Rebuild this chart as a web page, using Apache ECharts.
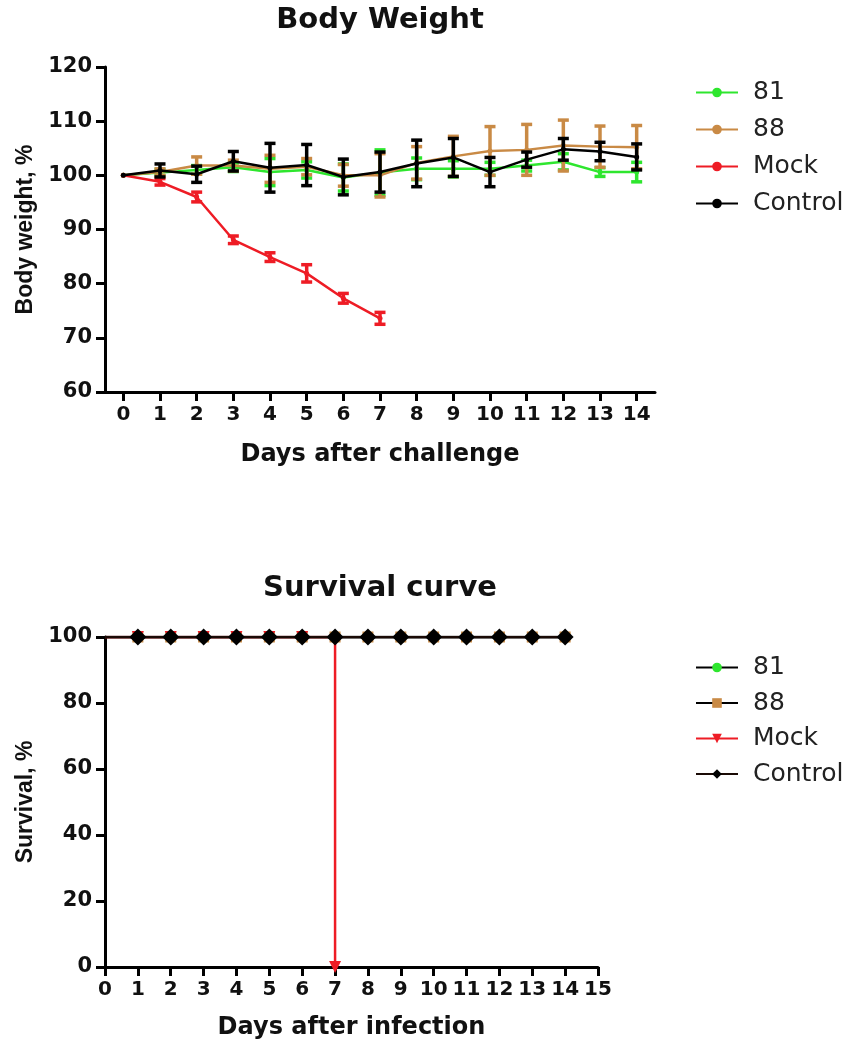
<!DOCTYPE html>
<html>
<head>
<meta charset="utf-8">
<title>Body Weight / Survival curve</title>
<script src="https://cdn.jsdelivr.net/npm/echarts@6/dist/echarts.min.js"></script>
<style>
  html, body { margin: 0; padding: 0; background: #fff; }
  .chart { width: 857px; height: 525px; }
</style>
</head>
<body>
<div id="weightChart" class="chart"></div>
<div id="survivalChart" class="chart"></div>
<script>
// ---- body weight (% of day 0), mean and error per day ----
const days = ['0', '1', '2', '3', '4', '5', '6', '7', '8', '9', '10', '11', '12', '13', '14']
const bw81 = [100, 100.5, 101.0, 101.5, 100.6, 101.0, 99.6, 100.5, 101.2, 101.2, 101.2, 101.8, 102.5, 100.6, 100.6]
const bw81Err = [0, 0.6, 0.8, 0.8, 2.5, 1.5, 2.5, 4.2, 2.0, 1.5, 1.2, 1.0, 1.5, 0.8, 1.8]
const bw88 = [100, 100.6, 101.8, 101.8, 101.2, 101.6, 100.0, 100.0, 102.3, 103.5, 104.5, 104.7, 105.5, 105.3, 105.2]
const bw88Err = [0, 0.6, 1.6, 1.0, 2.5, 1.5, 2.0, 4.0, 3.0, 3.7, 4.5, 4.7, 4.7, 3.8, 4.0]
const bwMock = [100, 98.8, 96.0, 88.1, 84.9, 81.9, 77.3, 73.6]
const bwMockErr = [0, 0.6, 0.9, 0.7, 0.8, 1.6, 0.9, 1.1]
const bwCtrl = [100, 100.9, 100.2, 102.6, 101.4, 101.9, 99.7, 100.6, 102.2, 103.3, 100.6, 102.9, 104.8, 104.4, 103.4]
const bwCtrlErr = [0, 1.2, 1.5, 1.8, 4.5, 3.8, 3.3, 3.7, 4.3, 3.5, 2.7, 1.4, 2.0, 1.7, 2.4]

// ---- survival (%) ----
const survDays = [0, 1, 2, 3, 4, 5, 6, 7, 8, 9, 10, 11, 12, 13, 14]
const surv81 = [100, 100, 100, 100, 100, 100, 100, 100, 100, 100, 100, 100, 100, 100, 100]
const surv88 = [100, 100, 100, 100, 100, 100, 100, 100, 100, 100, 100, 100, 100, 100, 100]
const survCtrl = [100, 100, 100, 100, 100, 100, 100, 100, 100, 100, 100, 100, 100, 100, 100]
const survMockDays = [0, 1, 2, 3, 4, 5, 6, 7]
const survMock = [100, 100, 100, 100, 100, 100, 100, 0]

const GREEN = '#2ee62e'
const TAN = '#c98a45'
const RED = '#ee1c25'
const BLACK = '#000'

const boldFont = { fontFamily: 'DejaVu Sans', fontWeight: 'bold', color: '#111' }

const axisLine = { show: true, lineStyle: { color: BLACK, width: 3 } }
const axisTick = { show: true, length: 9, lineStyle: { color: BLACK, width: 3 } }

const errorBars = (color) => (params, api) => {
  const x = api.value(0)
  const lo = api.coord([x, api.value(1)])
  const hi = api.coord([x, api.value(2)])
  const cap = 5.5
  const style = { stroke: color, lineWidth: 3.5 }
  return {
    type: 'group',
    children: [
      { type: 'line', shape: { x1: lo[0], y1: lo[1], x2: hi[0], y2: hi[1] }, style },
      { type: 'line', shape: { x1: lo[0] - cap, y1: lo[1], x2: lo[0] + cap, y2: lo[1] }, style },
      { type: 'line', shape: { x1: hi[0] - cap, y1: hi[1], x2: hi[0] + cap, y2: hi[1] }, style }
    ]
  }
}

const weightPair = (name, values, errs, color, z) => {
  const bars = []
  values.forEach((v, i) => {
    if (errs[i] > 0) bars.push([i, v - errs[i], v + errs[i]])
  })
  return [
    {
      name,
      type: 'line',
      data: values,
      symbol: 'circle',
      symbolSize: 5,
      lineStyle: { color, width: 2.5 },
      itemStyle: { color },
      z
    },
    {
      name: name + ' error',
      type: 'custom',
      renderItem: errorBars(color),
      encode: { x: 0, y: [1, 2] },
      data: bars,
      z
    }
  ]
}

const legendBase = {
  orient: 'vertical',
  left: 690,
  itemWidth: 42,
  itemHeight: 12,
  textStyle: { fontFamily: 'DejaVu Sans', fontSize: 25, color: '#222', lineHeight: 25, padding: [0, 0, 0, 10] }
}

const yName = { fontFamily: 'Liberation Sans', fontWeight: 'bold', fontSize: 23, color: '#111' }
const yLabel = { ...boldFont, fontSize: 21, margin: 13 }
const xLabel = { ...boldFont, fontSize: 20, margin: 13 }

const weightChart = echarts.init(document.getElementById('weightChart'))
weightChart.setOption({
  animation: false,
  title: {
    text: 'Body Weight',
    left: 380,
    top: 6,
    textAlign: 'center',
    padding: 0,
    textStyle: { ...boldFont, fontSize: 29 }
  },
  legend: {
    ...legendBase,
    top: 75,
    itemGap: 12,
    data: ['81', '88', 'Mock', 'Control']
  },
  grid: { left: 105, top: 67, width: 550, height: 325 },
  xAxis: {
    type: 'category',
    data: days,
    boundaryGap: true,
    axisLine,
    axisTick: { ...axisTick, alignWithLabel: true, interval: 0 },
    axisLabel: { ...xLabel, interval: 0 },
    splitLine: { show: false },
    name: 'Days after challenge',
    nameLocation: 'middle',
    nameGap: 51,
    nameTextStyle: { ...boldFont, fontSize: 24 }
  },
  yAxis: {
    type: 'value',
    min: 60,
    max: 120,
    interval: 10,
    axisLine,
    axisTick,
    axisLabel: yLabel,
    splitLine: { show: false },
    name: 'Body weight, %',
    nameLocation: 'middle',
    nameGap: 66,
    nameTextStyle: yName
  },
  series: [
    ...weightPair('81', bw81, bw81Err, GREEN, 2),
    ...weightPair('88', bw88, bw88Err, TAN, 3),
    ...weightPair('Mock', bwMock, bwMockErr, RED, 4),
    ...weightPair('Control', bwCtrl, bwCtrlErr, BLACK, 5)
  ]
})

// survival points; day 0 carries no marker
const survData = (xs, ys) => xs.map((d, i) => (d === 0 ? { value: [d, ys[i]], symbol: 'none' } : [d, ys[i]]))

const survLine = (name, xs, ys, lineColor, markColor, symbol, size, z, extra = {}) => ({
  name,
  type: 'line',
  step: 'end',
  data: survData(xs, ys),
  symbol,
  symbolSize: size,
  lineStyle: { color: lineColor, width: 2.5 },
  itemStyle: { color: markColor },
  z,
  ...extra
})

const survivalChart = echarts.init(document.getElementById('survivalChart'))
survivalChart.setOption({
  animation: false,
  title: {
    text: 'Survival curve',
    left: 380,
    top: 49,
    textAlign: 'center',
    padding: 0,
    textStyle: { ...boldFont, fontSize: 29 }
  },
  legend: {
    ...legendBase,
    top: 125,
    itemGap: 10.5,
    data: ['81', '88', 'Mock', 'Control']
  },
  grid: { left: 105, top: 112, width: 493, height: 330 },
  xAxis: {
    type: 'value',
    min: 0,
    max: 15,
    interval: 1,
    axisLine,
    axisTick,
    axisLabel: xLabel,
    splitLine: { show: false },
    name: 'Days after infection',
    nameLocation: 'middle',
    nameGap: 49,
    nameTextStyle: { ...boldFont, fontSize: 24 }
  },
  yAxis: {
    type: 'value',
    min: 0,
    max: 100,
    interval: 20,
    axisLine,
    axisTick,
    axisLabel: yLabel,
    splitLine: { show: false },
    name: 'Survival, %',
    nameLocation: 'middle',
    nameGap: 66,
    nameTextStyle: yName
  },
  series: [
    survLine('81', survDays, surv81, BLACK, GREEN, 'circle', 12, 2),
    survLine('88', survDays, surv88, BLACK, TAN, 'rect', 11, 3),
    survLine('Mock', survMockDays, survMock, RED, RED, 'triangle', 12, 4, { symbolRotate: 180 }),
    survLine('Control', survDays, survCtrl, '#1a0a05', BLACK, 'diamond', 17, 5)
  ]
})
</script>
</body>
</html>
